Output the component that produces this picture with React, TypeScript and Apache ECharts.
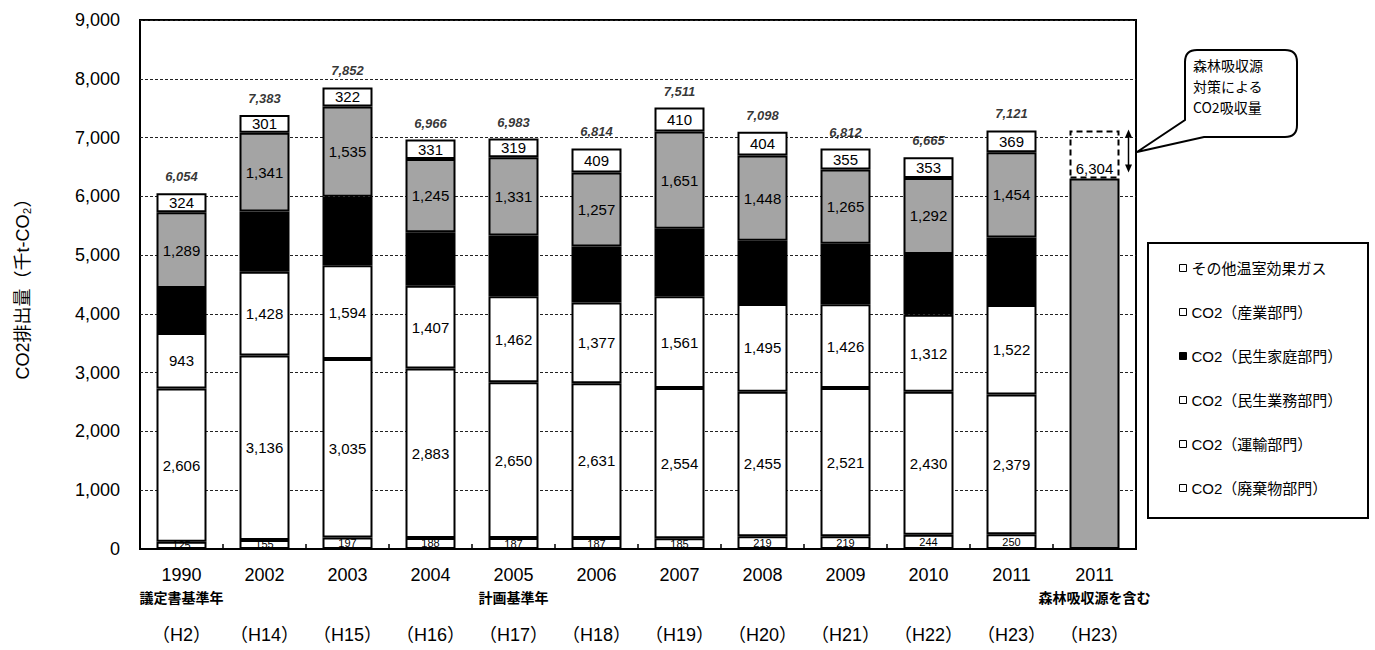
import React, { useEffect, useRef } from "react";
import * as echarts from "echarts";

const years = ["1990", "2002", "2003", "2004", "2005", "2006", "2007", "2008", "2009", "2010", "2011", "2011"];
const notes = ["議定書基準年", "", "", "", "計画基準年", "", "", "", "", "", "", "森林吸収源を含む"];
const eras = ["（H2）", "（H14）", "（H15）", "（H16）", "（H17）", "（H18）", "（H19）", "（H20）", "（H21）", "（H22）", "（H23）", "（H23）"];

const waste = [125, 155, 197, 188, 187, 187, 185, 219, 219, 244, 250, null];
const transport = [2606, 3136, 3035, 2883, 2650, 2631, 2554, 2455, 2521, 2430, 2379, null];
const commercial = [943, 1428, 1594, 1407, 1462, 1377, 1561, 1495, 1426, 1312, 1522, null];
const household = [767, 1022, 1169, 912, 1034, 953, 1150, 1077, 1026, 1034, 1147, null];
const industry = [1289, 1341, 1535, 1245, 1331, 1257, 1651, 1448, 1265, 1292, 1454, null];
const otherGas = [324, 301, 322, 331, 319, 409, 410, 404, 355, 353, 369, null];
const totals = [6054, 7383, 7852, 6966, 6983, 6814, 7511, 7098, 6812, 6665, 7121, null];
const forestNet = [null, null, null, null, null, null, null, null, null, null, null, 6304];
const forestSink = forestNet.map((v, i) => (v == null ? null : (totals[i - 1] as number) - v));

const yTicks = { min: 0, max: 9000, interval: 1000 };

const NAMES = {
  other: "その他温室効果ガス",
  industry: "CO2（産業部門）",
  household: "CO2（民生家庭部門）",
  commercial: "CO2（民生業務部門）",
  transport: "CO2（運輸部門）",
  waste: "CO2（廃棄物部門）",
};

const FONT = "'Liberation Sans', Arial, 'Noto Sans CJK JP', sans-serif";
const GRAY = "#a4a4a4";

const fmt = (v: number) => Number(v).toLocaleString("en-US");

const BUBBLE_D =
  "M 1197 50 L 1285 50 Q 1297 50 1297 62 L 1297 125 Q 1297 137 1285 137 L 1204 137 L 1137 152 L 1185 120 L 1185 62 Q 1185 50 1197 50 Z";

let registered = false;
function ensureShapes() {
  if (registered) return;
  registered = true;
  echarts.graphic.registerShape("bubble", echarts.graphic.extendPath(BUBBLE_D, {}) as any);
}

function segLabel(fontSize = 15) {
  return {
    show: true,
    position: "inside" as const,
    color: "#000",
    fontSize,
    fontFamily: FONT,
    formatter: (p: any) => fmt(p.value),
  };
}

export default function App() {
  const ref = useRef<HTMLDivElement>(null);
  useEffect(() => {
    if (!ref.current) return;
    ensureShapes();
    const chart = echarts.init(ref.current, null, { renderer: "svg" });
    const border = { borderColor: "#000", borderWidth: 2 };
    const barCommon = { type: "bar" as const, stack: "a", barWidth: 50 };
    const legendIcon = (fill: string) => ({ color: fill, borderColor: "#000", borderWidth: 1 });

    const option: any = {
      animation: false,
      backgroundColor: "#fff",
      textStyle: { fontFamily: FONT },
      grid: {
        left: 140,
        right: 239,
        top: 20,
        bottom: 101,
        show: true,
        borderColor: "#000",
        borderWidth: 2,
        backgroundColor: "transparent",
      },
      legend: {
        orient: "vertical",
        left: 1174,
        top: 253,
        itemWidth: 7,
        itemHeight: 7,
        itemGap: 24,
        icon: "rect",
        selectedMode: false,
        textStyle: { fontSize: 15, color: "#000", lineHeight: 20, fontFamily: FONT },
        data: [
          { name: NAMES.other, itemStyle: legendIcon("#fff") },
          { name: NAMES.industry, itemStyle: legendIcon("#fff") },
          { name: NAMES.household, itemStyle: legendIcon("#000") },
          { name: NAMES.commercial, itemStyle: legendIcon("#fff") },
          { name: NAMES.transport, itemStyle: legendIcon("#fff") },
          { name: NAMES.waste, itemStyle: legendIcon("#fff") },
        ],
      },
      xAxis: {
        type: "category",
        data: years.map((y, i) => `${y}#${i}`),
        axisLine: { show: true, lineStyle: { color: "#000", width: 2 } },
        axisTick: { show: true, inside: true, length: 5, lineStyle: { color: "#000", width: 1.5 } },
        axisLabel: {
          interval: 0,
          margin: 15,
          color: "#000",
          formatter: (_v: string, i: number) =>
            `{y|${years[i]}}\n{n|${notes[i] || " "}}\n{e|${eras[i]}}`,
          rich: {
            y: { fontSize: 18, lineHeight: 22, color: "#000", fontFamily: FONT },
            n: { fontSize: 14, fontWeight: "bold", lineHeight: 22, color: "#000", fontFamily: "'Noto Sans CJK JP', sans-serif" },
            e: { fontSize: 18, lineHeight: 54, color: "#000", fontFamily: "'Liberation Sans', 'Noto Sans CJK JP', sans-serif" },
          },
        },
      },
      yAxis: {
        type: "value",
        min: yTicks.min,
        max: yTicks.max,
        interval: yTicks.interval,
        name: "CO2排出量（千t-CO₂）",
        nameLocation: "middle",
        nameGap: 108,
        nameRotate: 90,
        nameTextStyle: { fontSize: 18, color: "#000", fontFamily: FONT },
        axisLine: { show: false },
        axisTick: { show: false },
        axisLabel: { fontSize: 18, color: "#000", margin: 20, formatter: (v: number) => fmt(v) },
        splitLine: { show: true, lineStyle: { color: "#222", width: 1, type: [3, 2] } },
      },
      series: [
        { ...barCommon, name: NAMES.waste, data: waste, itemStyle: { color: "#fff", ...border }, label: segLabel(11) },
        { ...barCommon, name: NAMES.transport, data: transport, itemStyle: { color: "#fff", ...border }, label: segLabel() },
        { ...barCommon, name: NAMES.commercial, data: commercial, itemStyle: { color: "#fff", ...border }, label: segLabel() },
        { ...barCommon, name: NAMES.household, data: household, itemStyle: { color: "#000", ...border }, label: { show: false } },
        { ...barCommon, name: NAMES.industry, data: industry, itemStyle: { color: GRAY, ...border }, label: segLabel() },
        { ...barCommon, name: NAMES.other, data: otherGas, itemStyle: { color: "#fff", ...border }, label: segLabel() },
        {
          ...barCommon,
          name: "森林吸収源含む",
          data: forestNet,
          itemStyle: { color: GRAY, ...border },
          label: {
            show: true,
            position: "top",
            distance: 2,
            color: "#000",
            fontSize: 15,
            fontFamily: FONT,
            formatter: (p: any) => fmt(p.value),
          },
        },
        {
          ...barCommon,
          name: "森林吸収量",
          data: forestSink,
          itemStyle: { color: "rgba(0,0,0,0)", borderColor: "#000", borderWidth: 2, borderType: [6, 4] },
          label: { show: false },
        },
        {
          type: "scatter",
          name: "合計",
          data: totals,
          symbolSize: 0,
          z: 5,
          label: {
            show: true,
            position: "top",
            distance: 10,
            color: "#000",
            fontSize: 13,
            fontStyle: "italic",
            fontWeight: "bold",
            fontFamily: FONT,
            formatter: (p: any) => fmt(p.value),
          },
        },
      ],
    };
    chart.setOption(option);

    const pTop = chart.convertToPixel({ xAxisIndex: 0, yAxisIndex: 0 }, [11, totals[10] as number]) as number[];
    const pBot = chart.convertToPixel({ xAxisIndex: 0, yAxisIndex: 0 }, [11, forestNet[11] as number]) as number[];
    const ax = pTop[0] + 34;
    const y1 = pTop[1] - 1;
    const y2 = pBot[1] - 6;

    chart.setOption({
      graphic: [
        {
          type: "rect",
          shape: { x: 1148, y: 243, width: 220, height: 275 },
          style: { fill: "#fff", stroke: "#000", lineWidth: 2 },
          z: 0,
        },
        { type: "bubble", style: { fill: "#fff", stroke: "#000", lineWidth: 2 }, z: 1 },
        {
          type: "text",
          x: 1193,
          y: 54,
          style: {
            text: "森林吸収源\n対策による\nCO2吸収量",
            fontSize: 14,
            lineHeight: 21,
            fill: "#000",
            fontFamily: "'Noto Sans CJK JP', sans-serif",
          },
          z: 2,
        },
        {
          type: "line",
          shape: { x1: ax, y1: y1 + 6, x2: ax, y2: y2 - 6 },
          style: { stroke: "#000", lineWidth: 1.5 },
          z: 10,
        },
        {
          type: "polygon",
          shape: { points: [[ax, y1], [ax - 3.5, y1 + 8], [ax + 3.5, y1 + 8]] },
          style: { fill: "#000" },
          z: 10,
        },
        {
          type: "polygon",
          shape: { points: [[ax, y2], [ax - 3.5, y2 - 8], [ax + 3.5, y2 - 8]] },
          style: { fill: "#000" },
          z: 10,
        },
      ],
    });

    return () => chart.dispose();
  }, []);
  return <div ref={ref} style={{ position: "fixed", left: 0, top: 0, width: 1375, height: 650 }} />;
}
